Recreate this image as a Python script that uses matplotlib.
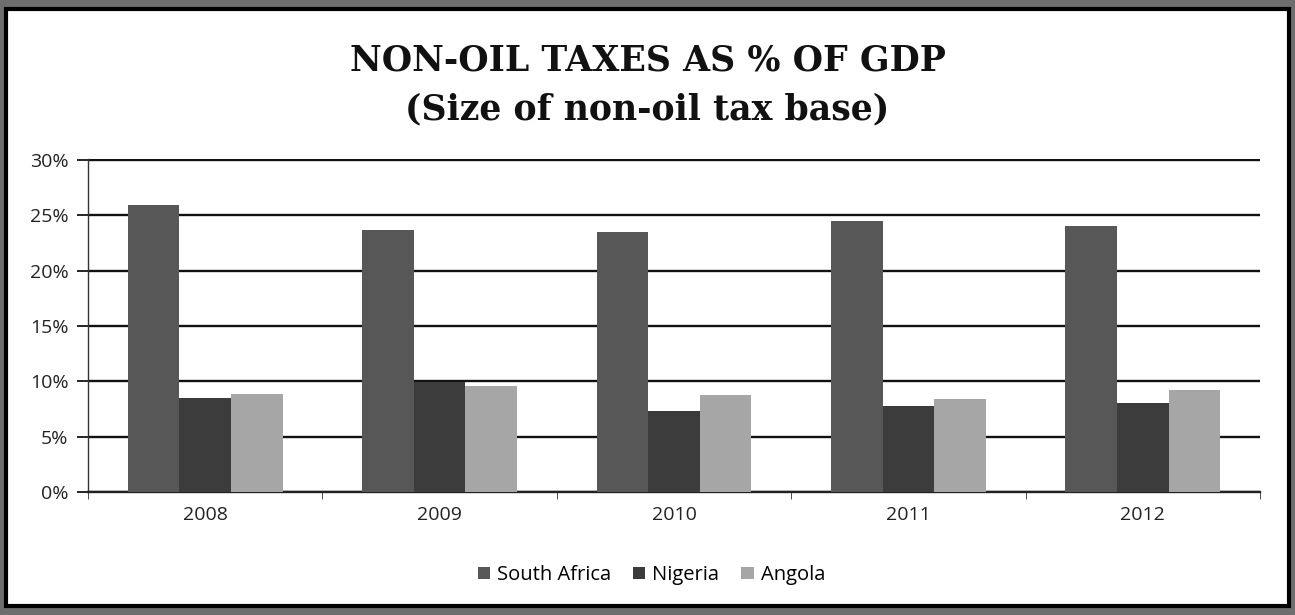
import numpy as np
import matplotlib.pyplot as plt
from matplotlib.patches import Rectangle

# data
years = ['2008', '2009', '2010', '2011', '2012']
south_africa = [25.9, 23.7, 23.5, 24.5, 24.0]
nigeria = [8.5, 9.9, 7.3, 7.8, 8.0]
angola = [8.9, 9.6, 8.8, 8.4, 9.2]

series_names = ['South Africa', 'Nigeria', 'Angola']
series_colors = ['#575757', '#3c3c3c', '#a6a6a6']
y_ticks = [0, 5, 10, 15, 20, 25, 30]

fig = plt.figure(figsize=(12.95, 6.15), dpi=100)
fig.patch.set_facecolor('#6e6e6e')

# white chart panel with black frame (the scanned page)
fig.patches.append(Rectangle((0.005, 0.014), 0.99, 0.972, transform=fig.transFigure,
                             facecolor='white', edgecolor='black', linewidth=3, zorder=-10))

ax = fig.add_axes([0.068, 0.2, 0.905, 0.542])
ax.set_facecolor('white')

x = np.arange(len(years))
w = 0.22
for i, (vals, name, col) in enumerate(zip([south_africa, nigeria, angola], series_names, series_colors)):
    ax.bar(x + (i - 1) * w, vals, width=w, color=col, label=name, zorder=3)

ax.set_xlim(-0.5, len(years) - 0.5)
ax.set_ylim(0, 30.12)  # a little headroom so the 30% gridline is not clipped
ax.set_yticks(y_ticks)
ax.set_yticklabels([f'{t}%' for t in y_ticks])
ax.yaxis.grid(True, color='#111111', linewidth=1.7, zorder=1)
ax.set_axisbelow(True)

ax.set_xticks(x)
ax.set_xticklabels(years)
ax.set_xticks(np.arange(-0.5, len(years)), minor=True)
ax.tick_params(axis='x', which='major', length=0, pad=10, labelsize=14, labelcolor='#222222')
ax.tick_params(axis='x', which='minor', length=5, direction='out', color='#333333')
ax.tick_params(axis='y', length=8, width=1.2, direction='out', pad=6, labelsize=14, labelcolor='#222222')
for lab in ax.get_xticklabels() + ax.get_yticklabels():
    lab.set_fontfamily('Open Sans')

for side in ['top', 'right']:
    ax.spines[side].set_visible(False)
ax.spines['left'].set_color('#333333')
ax.spines['left'].set_linewidth(1.0)
ax.spines['bottom'].set_color('#222222')
ax.spines['bottom'].set_linewidth(1.7)

fig.text(0.5, 0.902, 'NON-OIL TAXES AS % OF GDP', ha='center', va='center',
         fontsize=25, fontweight='bold', family='DejaVu Serif', color='#111111')
fig.text(0.5, 0.822, '(Size of non-oil tax base)', ha='center', va='center',
         fontsize=25, fontweight='bold', family='DejaVu Serif', color='#111111')

leg = fig.legend(loc='center', bbox_to_anchor=(0.503, 0.065), ncol=3, frameon=False,
                 prop={'family': 'Open Sans', 'size': 14.5}, handlelength=0.6, handleheight=0.6,
                 handletextpad=0.35, columnspacing=1.1)

fig.savefig('out.png', dpi=100, facecolor=fig.get_facecolor())
